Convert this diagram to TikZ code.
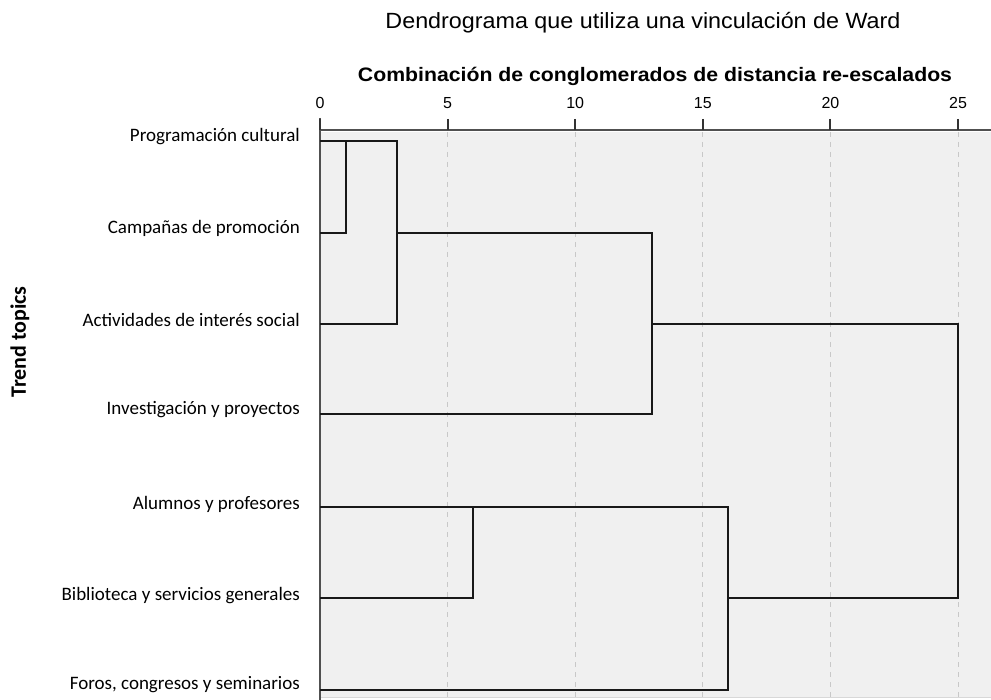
\documentclass[tikz,border=0pt]{standalone}
\usepackage{fontspec}
\setmainfont{Liberation Sans}
\newfontfamily\calibri{Carlito}
\usetikzlibrary{positioning}

\definecolor{panel}{HTML}{F0F0F0}
\definecolor{gridc}{HTML}{C8C8C8}
\definecolor{axisc}{HTML}{505050}

\begin{document}
\begin{tikzpicture}[x=1pt,y=-1pt,
	leaf/.style={anchor=east,inner sep=0pt,font=\calibri\fontsize{19}{19}\selectfont},
	tick/.style={inner sep=0pt,font=\fontsize{16}{16}\selectfont},
	link/.style={line width=2.3pt,black!90},
	gline/.style={gridc,line width=0.9pt,dash pattern=on 5pt off 5pt}]

	\useasboundingbox (0,0) rectangle (991,700);
	
	% panel and grid
	\fill[panel] (321,132) rectangle (991,697);
	\draw[gridc!70,line width=0.8pt] (321,697) -- (991,697);
	\foreach \v in {5,10,15,20,25}
		\draw[gline] ({320+\v*25.52},132) -- ({320+\v*25.52},697);
	
	% axis
	\draw[axisc,line width=2pt] (320,118) -- (320,700);
	\draw[axisc,line width=2pt] (320,130) -- (991,130);
	\foreach \v in {0,5,10,15,20,25} {
		\draw[black!80,line width=2pt] ({320+\v*25.52},119) -- ({320+\v*25.52},130);
		\node[tick] (t\v) at ({320+\v*25.52},103) {\v};
	}
	
	% titles
	\node[xscale=1.06,font=\fontsize{22}{22}\selectfont] (title) at (643,23) {Dendrograma que utiliza una vinculación de Ward};
	\node[xscale=1.09,font=\bfseries\fontsize{19.5}{19.5}\selectfont] (subtitle) at (655,76) {Combinación de conglomerados de distancia re-escalados};
	\node[rotate=90,font=\calibri\bfseries\fontsize{22}{22}\selectfont] (ylab) at (20,342) {Trend topics};
	
	% leaves
	\node[leaf] (prog)   at (300,137) {Programación cultural};
	\node[leaf] (camp)   at (300,228) {Campañas de promoción};
	\node[leaf] (activ)  at (300,320) {Actividades de interés social};
	\node[leaf] (inves)  at (300,410) {Investigación y proyectos};
	\node[leaf] (alum)   at (300,504) {Alumnos y profesores};
	\node[leaf] (biblio) at (300,596) {Biblioteca y servicios generales};
	\node[leaf] (foros)  at (300,685) {Foros, congresos y seminarios};
	
	\coordinate (l1) at (320,141);
	\coordinate (l2) at (320,233);
	\coordinate (l3) at (320,324);
	\coordinate (l4) at (320,414);
	\coordinate (l5) at (320,507);
	\coordinate (l6) at (320,598);
	\coordinate (l7) at (320,690);
	
	\coordinate (k1) at (346,141);
	\coordinate (k2) at (397,324);
	\coordinate (k3) at (652,414);
	\coordinate (k4) at (473,507);
	\coordinate (k5) at (728,690);
	\coordinate (k6) at (958,598);
	
	% clusters
	\draw[link] (l2) -| (k1);
	\draw[link] (l1) -| (k2) -- (l3);
	\draw[link] (397,233) -| (k3) -- (l4);
	\draw[link] (l6) -| (k4);
	\draw[link] (l5) -| (k5) -- (l7);
	\draw[link] (652,324) -| (k6) -- (728,598);
	
\end{tikzpicture}
\end{document}
